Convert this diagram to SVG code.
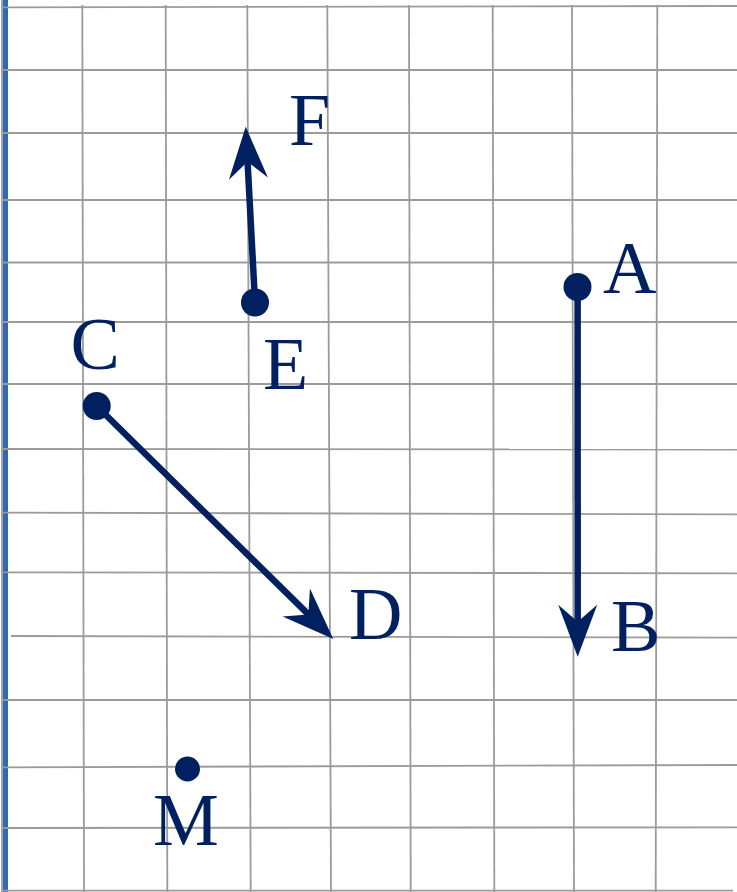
<svg xmlns="http://www.w3.org/2000/svg" width="737" height="892" viewBox="0 0 737 892">
<style>
.grid line{stroke:#9b9b9b;stroke-width:1.8}
.vec{stroke:#00205f;stroke-width:6.5;fill:none}
.dot{fill:#00205f}
.lbl{font-family:"Liberation Serif","Times New Roman",serif;font-size:74px;fill:#00205f}
</style>
<defs>
<path id="head" d="M0,0 L-52,-19.5 L-35,0 L-52,19.5 Z" fill="#00205f"/>
</defs>
<rect x="0" y="0" width="737" height="892" fill="#ffffff"/>
<rect x="3" y="0" width="5" height="892" fill="#2f68b3"/>
<g class="grid">
<line x1="2" y1="0" x2="2" y2="892"/>
<line x1="82.3" y1="5" x2="84" y2="892"/>
<line x1="165.7" y1="5" x2="167.3" y2="892"/>
<line x1="247.3" y1="5" x2="250.7" y2="892"/>
<line x1="327.3" y1="5" x2="331" y2="892"/>
<line x1="409" y1="5" x2="410.7" y2="892"/>
<line x1="492.7" y1="5" x2="494.3" y2="892"/>
<line x1="572" y1="5" x2="574" y2="892"/>
<line x1="657.3" y1="5" x2="655.7" y2="892"/>
<line x1="2" y1="7.3" x2="737" y2="6"/>
<line x1="2" y1="70" x2="737" y2="70"/>
<line x1="2" y1="133" x2="737" y2="133"/>
<line x1="2" y1="200" x2="737" y2="200"/>
<line x1="2" y1="262.5" x2="737" y2="262.5"/>
<line x1="2" y1="322" x2="737" y2="322"/>
<line x1="2" y1="384" x2="737" y2="384"/>
<line x1="2" y1="449" x2="737" y2="449.5"/>
<line x1="2" y1="512.7" x2="737" y2="514.3"/>
<line x1="2" y1="572.3" x2="737" y2="573.3"/>
<line x1="11" y1="636" x2="737" y2="637.7"/>
<line x1="2" y1="700" x2="737" y2="700"/>
<line x1="2" y1="767.3" x2="737" y2="765"/>
<line x1="2" y1="828" x2="737" y2="827.3"/>
<line x1="2" y1="890.7" x2="733" y2="890.7"/>
</g>
<g id="connectors">
<line class="vec" x1="255" y1="302" x2="247.3" y2="156.7"/>
<use href="#head" transform="translate(245.7,126.7) rotate(-93)"/>
<line class="vec" x1="577.6" y1="287" x2="577.7" y2="626.7"/>
<use href="#head" transform="translate(577.7,656.7) rotate(90)"/>
<line class="vec" x1="96.7" y1="406" x2="311.9" y2="617.9"/>
<use href="#head" transform="translate(333.3,639) rotate(44.56)"/>
</g>
<g id="A"><circle class="dot" cx="577.5" cy="287" r="14"/><text class="lbl" x="603" y="293">A</text></g>
<g id="B"><text class="lbl" x="611" y="650.5">B</text></g>
<g id="C"><circle class="dot" cx="96.7" cy="406" r="14"/><text class="lbl" x="70.5" y="369">C</text></g>
<g id="D"><text class="lbl" x="349" y="639">D</text></g>
<g id="E"><circle class="dot" cx="255" cy="302.5" r="14"/><text class="lbl" x="263" y="389">E</text></g>
<g id="F"><text class="lbl" x="289" y="145">F</text></g>
<g id="M"><circle class="dot" cx="187.5" cy="769" r="12.5"/><text class="lbl" x="153" y="845">M</text></g>
</svg>
